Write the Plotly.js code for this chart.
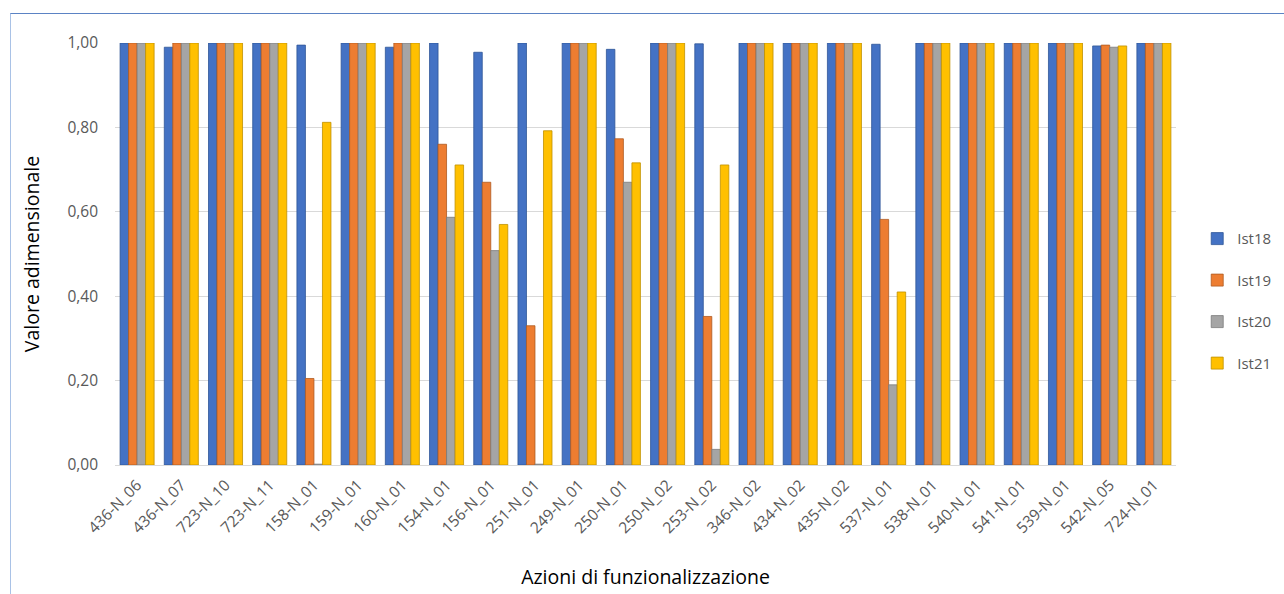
<!DOCTYPE html>
<html>
<head>
<meta charset="utf-8">
<script src="https://cdn.plot.ly/plotly-3.0.1.min.js"></script>
<style>
  html, body { margin: 0; padding: 0; background: #ffffff; }
  #wrap { position: relative; width: 1284px; height: 594px; overflow: hidden; }
  #frame { position: absolute; left: 10px; top: 13px; width: 1300px; height: 620px;
           border-top: 1.5px solid #5b83c4; border-left: 1.5px solid #a9c2e6; box-sizing: border-box; pointer-events: none; }
  #chart { position: absolute; left: 0; top: 0; width: 1284px; height: 594px; }
</style>
</head>
<body>
<div id="wrap">
  <div id="chart"></div>
  <div id="frame"></div>
</div>
<script>
const categories = ["436-N_06","436-N_07","723-N_10","723-N_11","158-N_01","159-N_01","160-N_01","154-N_01","156-N_01","251-N_01","249-N_01","250-N_01","250-N_02","253-N_02","346-N_02","434-N_02","435-N_02","537-N_01","538-N_01","540-N_01","541-N_01","539-N_01","542-N_05","724-N_01"];
const ist18 = [1.00,0.99,1.00,1.00,0.995,1.00,0.99,1.00,0.978,1.00,1.00,0.985,1.00,0.998,1.00,1.00,1.00,0.997,1.00,1.00,1.00,1.00,0.993,1.00];
const ist19 = [1.00,1.00,1.00,1.00,0.205,1.00,1.00,0.76,0.67,0.33,1.00,0.773,1.00,0.352,1.00,1.00,1.00,0.582,1.00,1.00,1.00,1.00,0.995,1.00];
const ist20 = [1.00,1.00,1.00,1.00,0.002,1.00,1.00,0.587,0.508,0.002,1.00,0.67,1.00,0.037,1.00,1.00,1.00,0.19,1.00,1.00,1.00,1.00,0.99,1.00];
const ist21 = [1.00,1.00,1.00,1.00,0.812,1.00,1.00,0.711,0.570,0.792,1.00,0.716,1.00,0.711,1.00,1.00,1.00,0.410,1.00,1.00,1.00,1.00,0.993,1.00];
const seriesNames = ["Ist18","Ist19","Ist20","Ist21"];
const seriesColors = ["#4472c4","#ed7d31","#a5a5a5","#ffc000"];
const sideColors = ["#2f5597","#ae5a21","#7b7b7b","#bf9000"];
const seriesValues = [ist18, ist19, ist20, ist21];

const traces = seriesValues.map((vals, i) => ({
  type: "bar",
  name: seriesNames[i],
  legendgroup: seriesNames[i],
  x: categories,
  y: vals,
  marker: { color: seriesColors[i], line: { color: sideColors[i], width: 0.8 } },
  hoverinfo: "x+y+name"
}));

const layout = {
  width: 1284,
  height: 594,
  margin: { l: 115, r: 108, t: 43, b: 129, autoexpand: false },
  paper_bgcolor: "rgba(0,0,0,0)",
  plot_bgcolor: "rgba(0,0,0,0)",
  font: { family: "Open Sans, Noto Sans, sans-serif", color: "#595959", size: 15 },
  separators: ",.",
  barmode: "group",
  bargap: 0.23,
  bargroupgap: 0,
  xaxis: {
    type: "category",
    tickangle: -45,
    tickfont: { size: 15.5, color: "#595959" },
    showgrid: false,
    showline: true,
    linecolor: "#d9d9d9",
    linewidth: 1,
    ticks: "",
    ticklabelstandoff: 4,
    title: { text: "Azioni di funzionalizzazione", font: { size: 19.5, color: "#000000" }, standoff: 33 }
  },
  yaxis: {
    range: [0, 1],
    tickvals: [0, 0.2, 0.4, 0.6, 0.8, 1.0],
    tickformat: ".2f",
    tickfont: { size: 15.5, color: "#595959" },
    gridcolor: "#d9d9d9",
    gridwidth: 1,
    zeroline: false,
    showline: false,
    ticks: "",
    ticklen: 0,
    ticklabelstandoff: 16,
    title: { text: "Valore adimensionale", font: { size: 19.5, color: "#000000" }, standoff: 22 }
  },
  legend: {
    x: 1.02,
    y: 0.575,
    xanchor: "left",
    yanchor: "top",
    font: { size: 15, color: "#595959" },
    tracegroupgap: 19,
    itemwidth: 30,
    bgcolor: "rgba(0,0,0,0)"
  },
  showlegend: true
};

Plotly.newPlot("chart", traces, layout, { displayModeBar: false, staticPlot: true });
</script>
</body>
</html>
